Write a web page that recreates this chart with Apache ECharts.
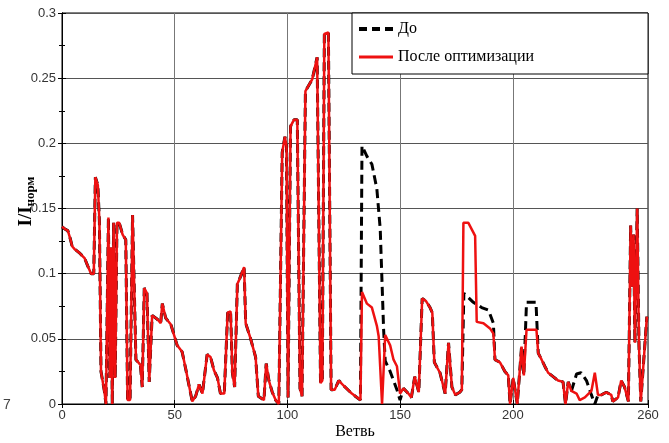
<!DOCTYPE html>
<html>
<head>
<meta charset="utf-8">
<script src="https://cdn.jsdelivr.net/npm/echarts@6/dist/echarts.min.js"></script>
<style>
html,body{margin:0;padding:0;background:#fff;}
#chart{width:669px;height:443px;}
</style>
</head>
<body>
<div id="chart"></div>
<script>
// Branch numbers (x) and values for "После оптимизации" (after optimisation)
const branch = [0,1.5,2.6,3.8,4.5,5.5,7.7,10,11.4,12.9,14.1,14.8,15.9,16.6,17.3,18.8,19.5,20.6,21.2,21.8,22.3,22.9,23.6,24.4,25.4,26.9,28.3,29.1,30.2,31.3,32.8,34.8,35.6,36.5,37.7,38.7,40,42.3,43.8,44.5,46,48.3,51.1,53.3,55,56.5,57.8,59.3,60.8,62.3,64.4,65.9,67.4,69,70.3,72,73.5,74.8,75.6,76.6,77.8,78.8,80.8,81.5,83.7,85.9,87.1,89.6,90.6,91.8,93.3,94.8,96.2,97.7,98.9,99.6,100.3,101.4,102.9,104.4,105.6,106.5,108,111,113.2,114.7,115.5,116.4,118.2,119.4,121,122.8,125,128.6,132.4,133.1,135.3,137.5,139.7,140.5,142,143.4,145.6,147.1,148.6,150,151.5,153.7,155,156.5,158.3,159.8,161.5,163.3,164.3,165.2,167.7,170,171.5,173,174.5,176.5,177.4,178.1,180.3,183.3,184,187,189.9,191.4,192.1,194.3,196.5,198,198.8,200.2,202,203.9,204.9,206.1,210.5,211.3,212.8,214.2,215.7,217.9,220.1,222.3,223.4,224.6,226,228.3,229.7,232,234.9,236.4,237.8,239.3,241.5,243.7,244.4,246.7,248.1,249.6,251.3,252.3,253,253.6,254.2,255.2,256,256.8,259.5];
const after = [0.136,0.134,0.133,0.126,0.121,0.119,0.116,0.112,0.106,0.1,0.1,0.174,0.168,0.14,0.025,0.01,0,0.143,0.02,0.12,0,0.139,0.02,0.139,0.139,0.13,0.126,0.003,0.003,0.145,0.034,0.03,0.013,0.089,0.085,0.017,0.068,0.065,0.062,0.077,0.066,0.061,0.045,0.04,0.026,0.013,0.002,0.006,0.015,0.008,0.038,0.036,0.026,0.02,0.008,0.008,0.07,0.071,0.024,0.013,0.092,0.096,0.105,0.062,0.05,0.036,0.006,0.003,0.031,0.018,0.009,0.003,0,0.193,0.205,0.198,0.005,0.213,0.218,0.218,0.012,0.006,0.24,0.249,0.266,0.016,0.018,0.284,0.285,0.011,0.011,0.018,0.014,0.008,0.003,0.086,0.077,0.074,0.06,0.052,0,0.053,0.045,0.034,0.029,0.008,0.012,0.008,0.005,0.021,0.009,0.081,0.079,0.074,0.07,0.032,0.024,0.008,0.047,0.013,0.007,0.009,0.011,0.139,0.139,0.129,0.063,0.062,0.058,0.054,0.034,0.032,0.025,0.022,0,0.02,0,0.044,0.022,0.057,0.057,0.039,0.034,0.029,0.024,0.021,0.018,0.017,0,0.017,0.01,0.008,0.003,0.005,0.01,0.024,0.007,0.007,0.009,0.007,0.002,0.005,0.018,0.013,0.002,0.137,0.09,0.13,0.047,0.15,0.045,0.002,0.067];

// "До" (before) differs from "after" only on these branch ranges
const beforeRanges = [[132.4,150],[177.4,192.1],[204.9,211.3],[226,237.8]];
const beforeDiffX = [132.4,133.1,135.3,137.5,139.7,141.2,142.7,143.4,145.6,147.1,148.6,150, 177.4,178.3,182.5,186.2,189.2,191.4,192.1, 204.9,206.1,210.3,211.3, 226,228.3,230.3,232.7,234.9,236.4,237.8];
const beforeDiffY = [0.003,0.198,0.19,0.184,0.165,0.134,0.057,0.033,0.025,0.018,0.011,0.003, 0.011,0.085,0.078,0.074,0.072,0.062,0.034, 0.022,0.078,0.078,0.039, 0.01,0.023,0.024,0.018,0.007,0,0.007];

const xTicks = [0,50,100,150,200,260];

const afterData = branch.map((x,i)=>[x, after[i]]);
const inRange = x => beforeRanges.some(r => x >= r[0] && x <= r[1]);
const beforeData = afterData.filter(p => !inRange(p[0]))
  .concat(beforeDiffX.map((x,i)=>[x, beforeDiffY[i]]))
  .sort((a,b)=>a[0]-b[0]);

const chart = echarts.init(document.getElementById('chart'), null, {renderer:'canvas'});
const labelFont = {fontFamily:'Liberation Sans', fontSize:13, color:'#333'};
chart.setOption({
  animation:false,
  backgroundColor:'#fff',
  grid:{left:62, right:21, top:13, bottom:39, outerBoundsMode:'none', containLabel:false,
        show:true, borderColor:'#000', borderWidth:1, backgroundColor:'#fff'},
  legend:{
    orient:'vertical', left:352, top:13,
    itemWidth:34, itemHeight:4, itemGap:10,
    padding:[7,114,8,7],
    backgroundColor:'#fff', borderColor:'#000', borderWidth:1,
    textStyle:{fontFamily:'Liberation Serif', fontSize:16, color:'#000', lineHeight:18},
    data:[
      {name:'До', icon:'path://M0,0h8v4h-8z M13,0h8v4h-8z M26,0h8v4h-8z'},
      {name:'После оптимизации', icon:'path://M0,0h34v3h-34z'}
    ]
  },
  xAxis:[{
    type:'value', min:0, max:260, position:'bottom',
    name:'Ветвь', nameLocation:'middle', nameGap:20, nameMoveOverlap:false,
    nameTextStyle:{fontFamily:'Liberation Serif', fontSize:16, color:'#000'},
    axisLine:{lineStyle:{color:'#000'}},
    axisTick:{inside:true, length:4, customValues:xTicks, lineStyle:{color:'#000'}},
    axisLabel:{customValues:xTicks, margin:5, ...labelFont},
    splitLine:{show:true, lineStyle:{color:'#777', width:1}}
  },{
    type:'value', min:0, max:260, position:'top',
    axisLine:{lineStyle:{color:'#000'}},
    axisTick:{inside:true, length:4, customValues:xTicks, lineStyle:{color:'#000'}},
    axisLabel:{show:false}, splitLine:{show:false}
  }],
  yAxis:[{
    type:'value', min:0, max:0.3, interval:0.05, position:'left',
    name:'{a|I/I}{b|норм}', nameLocation:'middle', nameGap:25, nameRotate:90, nameMoveOverlap:false,
    nameTextStyle:{padding:[0,0,0,14], rich:{
      a:{fontFamily:'Liberation Serif', fontSize:19, fontWeight:'bold', color:'#000'},
      b:{fontFamily:'Liberation Serif', fontSize:13, fontWeight:'bold', color:'#000', padding:[8,0,0,0]}
    }},
    axisLine:{lineStyle:{color:'#000'}},
    axisTick:{inside:true, length:4, lineStyle:{color:'#000'}},
    minorTick:{show:true, splitNumber:2, length:3, lineStyle:{color:'#000'}},
    axisLabel:{margin:6, ...labelFont, formatter:v=>String(+v.toFixed(2))},
    splitLine:{show:true, lineStyle:{color:'#555', width:1}}
  },{
    type:'value', min:0, max:0.3, interval:0.05, position:'right',
    axisLine:{lineStyle:{color:'#000'}},
    axisTick:{inside:true, length:4, lineStyle:{color:'#000'}},
    minorTick:{show:true, splitNumber:2, length:3, lineStyle:{color:'#000'}},
    axisLabel:{show:false}, splitLine:{show:false}
  }],
  graphic:[{type:'text', left:3, top:398, style:{text:'7', font:'14px Liberation Sans', fill:'#444'}}],
  series:[{
    name:'До', type:'line', data:beforeData, showSymbol:false, symbol:'none',
    color:'#000', lineStyle:{color:'#000', width:3, type:[9,5]}, z:2
  },{
    name:'После оптимизации', type:'line', data:afterData, showSymbol:false, symbol:'none',
    color:'#ee1111', lineStyle:{color:'#ee1111', width:2.5}, z:3
  }]
});
</script>
</body>
</html>
